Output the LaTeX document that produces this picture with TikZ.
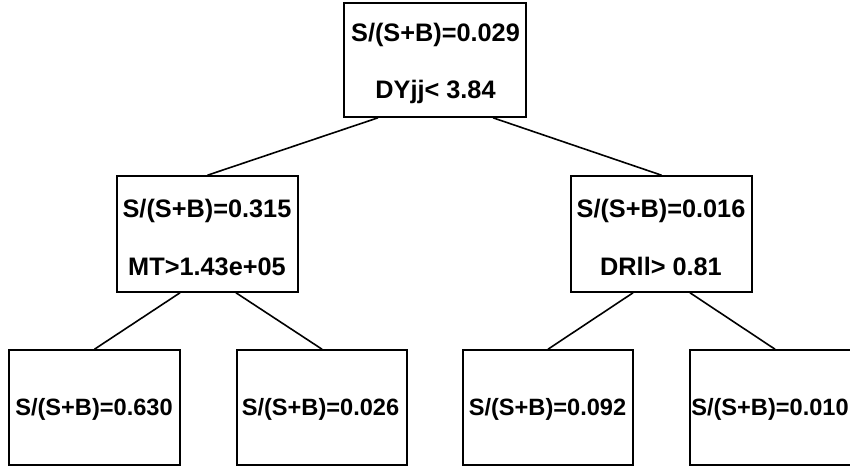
\documentclass[tikz,border=0pt]{standalone}
\usepackage{fontspec}
\setmainfont{Liberation Sans}
\begin{document}
\begin{tikzpicture}[x=1pt,y=-1pt,
  box/.style={draw=black,line width=1.6pt,fill=white,rectangle,inner sep=0pt},
  itxt/.style={anchor=base,inner sep=0pt,font=\fontsize{25.3}{30}\selectfont\bfseries},
  ltxt/.style={anchor=base,inner sep=0pt,font=\fontsize{23.6}{28}\selectfont\bfseries},
  link/.style={draw=black,line width=1.6pt}]
\useasboundingbox (0,0) rectangle (850,466);
\clip (0,0) rectangle (850,466);
\fill[white] (0,0) rectangle (850,466);
% boxes
\node[box,minimum width=182pt,minimum height=114pt] (root) at (435,60) {};
\node[box,minimum width=181pt,minimum height=116pt] (ml) at (207.5,234) {};
\node[box,minimum width=181pt,minimum height=116pt] (mr) at (661.5,234) {};
\node[box,minimum width=171pt,minimum height=115pt] (l1) at (94.5,407.5) {};
\node[box,minimum width=170pt,minimum height=115pt] (l2) at (322,407.5) {};
\node[box,minimum width=170pt,minimum height=115pt] (l3) at (548,407.5) {};
\node[box,minimum width=170pt,minimum height=115pt] (l4) at (775,407.5) {};
% texts
\node[itxt] (roott1) at (435.5,41) {S/(S+B)=0.029};
\node[itxt] (roott2) at (435.5,98) {DYjj< 3.84};
\node[itxt] (mlt1) at (207,217) {S/(S+B)=0.315};
\node[itxt] (mlt2) at (207,275) {MT>1.43e+05};
\node[itxt] (mrt1) at (661,217) {S/(S+B)=0.016};
\node[itxt] (mrt2) at (661,275) {DRll> 0.81};
\node[ltxt] (l1t) at (94,415) {S/(S+B)=0.630};
\node[ltxt] (l2t) at (320.5,415) {S/(S+B)=0.026};
\node[ltxt] (l3t) at (547.5,415) {S/(S+B)=0.092};
\node[ltxt] (l4t) at (770,415) {S/(S+B)=0.010};
% connectors
\draw[link] ([xshift=-57pt]root.south) -- (ml.north);
\draw[link] ([xshift=58pt]root.south) -- (mr.north);
\draw[link] ([xshift=-27.5pt]ml.south) -- (l1.north);
\draw[link] ([xshift=28.5pt]ml.south) -- (l2.north);
\draw[link] ([xshift=-28.5pt]mr.south) -- (l3.north);
\draw[link] ([xshift=28.5pt]mr.south) -- (l4.north);
\end{tikzpicture}
\end{document}
